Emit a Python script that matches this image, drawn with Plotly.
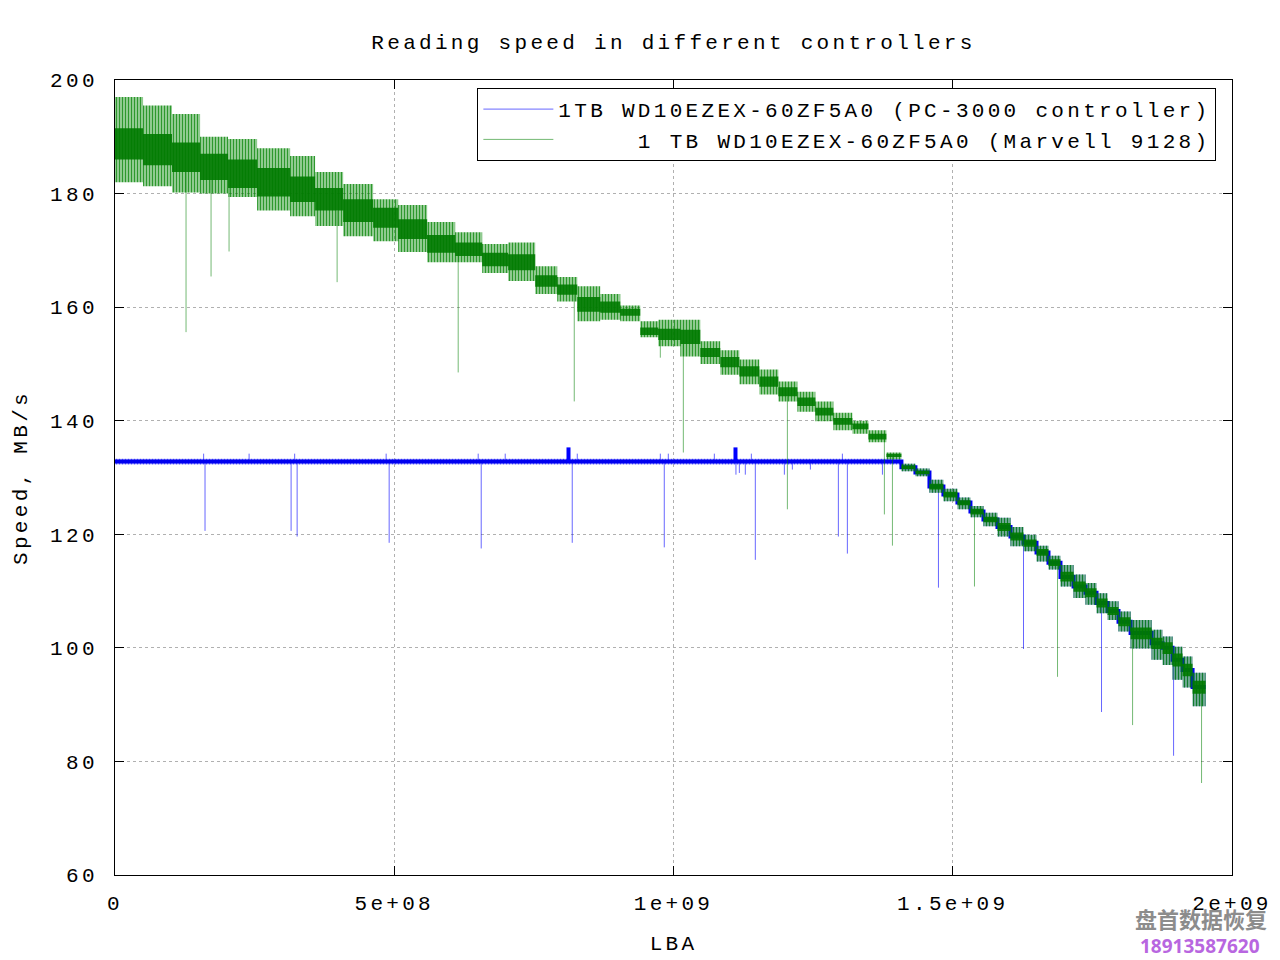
import numpy as np
import plotly.graph_objects as go

# ---------------- data ----------------
# Zone edges (LBA) of the Marvell 9128 read-speed steps
zone_edges_lba = [0, 0.0502e9, 0.1021e9, 0.1523e9, 0.2024e9, 0.2544e9, 0.3135e9, 0.3583e9,
                  0.4085e9, 0.4622e9, 0.5070e9, 0.5589e9, 0.6091e9, 0.6575e9, 0.7040e9,
                  0.7524e9, 0.7918e9, 0.8277e9, 0.8689e9, 0.9047e9, 0.9405e9, 0.9728e9,
                  1.0122e9, 1.0480e9, 1.0838e9, 1.1179e9, 1.1537e9, 1.1877e9, 1.2218e9,
                  1.2540e9, 1.2863e9, 1.3203e9, 1.3490e9, 1.3812e9, 1.4081e9, 1.4332e9,
                  1.4583e9, 1.4833e9, 1.5084e9, 1.5317e9, 1.5550e9, 1.5801e9, 1.6034e9,
                  1.6267e9, 1.6500e9, 1.6714e9, 1.6929e9, 1.7163e9, 1.7377e9, 1.7574e9,
                  1.7771e9, 1.7968e9, 1.8184e9, 1.8560e9, 1.8757e9, 1.8936e9, 1.9115e9,
                  1.9294e9, 1.9527e9]

# Marvell 9128 speed per zone (MB/s): typical level, noise envelope, dense core
marvell_mid = [189, 187.8, 186.4, 184.6, 183.4, 182, 180.8, 179, 176.9, 175.8, 173.7, 171.1,
               170.2, 168.4, 167.9, 164.6, 163.1, 160.5, 160, 159.1, 155.7, 155.2, 154.8, 152,
               150.3, 148.7, 146.9, 145.1, 143.4, 141.6, 139.9, 139, 137.2, 133.9, 131.8, 130.9,
               128.4, 127, 125.6, 124, 122.6, 121.3, 119.6, 118.5, 116.8, 115, 112.5, 110.8,
               109.7, 107.9, 106.5, 104.6, 102.6, 100.8, 100, 97.9, 96.1, 93.1]
marvell_max = [197, 195.5, 194, 190, 189.6, 188, 186.6, 183.8, 181.7, 179, 178, 175,
               173.2, 171.1, 171.4, 167.2, 165.3, 163.7, 162.3, 160.3, 157.5, 157.8, 157.8, 154,
               152.4, 150.8, 149, 146.9, 145.1, 143.4, 141.4, 140, 138.3, 134.4, 132.4, 131.6,
               129.6, 128, 126.5, 125, 123.8, 122.9, 121.3, 119.9, 118, 116.2, 114.6, 112.9,
               111.4, 109.6, 108.2, 106.4, 104.9, 103.2, 102, 100.2, 98.5, 95.6]
marvell_min = [182, 181.3, 180.2, 180, 179.4, 177, 176, 174.3, 172.5, 171.6, 169.7, 167.9,
               167.9, 166, 164.6, 162.3, 161, 157.5, 157.8, 157.5, 154.7, 153.1, 151.3, 150,
               148.1, 146.4, 144.6, 143.4, 141.6, 139.9, 138.3, 137.7, 136.2, 133.2, 131.1, 130.2,
               127.3, 125.8, 124.4, 123, 121.4, 119.6, 117.9, 117, 115.2, 113.8, 110.8, 108.8,
               107.6, 106.1, 104.9, 102.9, 99.9, 97.9, 97, 94.4, 93, 89.7]
marvell_core_hi = [191.5, 190.5, 189, 187, 186, 184.5, 183, 181, 179, 177.5, 175.5, 172.7,
                   171.4, 169.6, 169.3, 165.6, 164, 161.8, 161, 159.7, 156.4, 156.2, 156, 152.8,
                   151.2, 149.6, 147.8, 145.9, 144.1, 142.3, 140.5, 139.5, 137.7, 134.2, 132.1,
                   131.2, 128.9, 127.5, 126, 124.5, 123.1, 122, 120.3, 119.1, 117.4, 115.6, 113.4,
                   111.7, 110.5, 108.7, 107.2, 105.4, 103.6, 101.8, 101, 99, 97.2, 94.2]
marvell_core_lo = [186, 185, 183.8, 182.4, 181, 179.5, 178.5, 177, 175, 174, 172, 169.6,
                   169, 167.2, 166.5, 163.6, 162.2, 159.2, 159, 158.5, 155.1, 154.2, 153.5, 151.2,
                   149.4, 147.8, 146, 144.3, 142.6, 140.9, 139.3, 138.5, 136.7, 133.6, 131.5,
                   130.6, 127.9, 126.5, 125.1, 123.5, 122.1, 120.6, 118.9, 117.8, 116.2, 114.4,
                   111.7, 109.9, 108.9, 107.1, 105.8, 103.8, 101.5, 99.8, 98.9, 96.7, 95, 91.9]

# Marvell 9128 isolated slow reads (LBA, MB/s)
marvell_dip_lba = [0.1272e9, 0.1720e9, 0.2042e9, 0.3977e9, 0.6145e9, 0.8223e9, 0.9764e9,
                   1.0176e9, 1.2039e9, 1.3776e9, 1.3920e9, 1.5389e9, 1.6876e9, 1.8220e9,
                   1.9455e9]
marvell_dip_val = [155.6, 165.4, 169.8, 164.4, 148.5, 143.4, 151.1, 134.4, 124.4, 123.5, 118,
                   110.8, 94.9, 86.4, 76.2]

# PC-3000: flat level until the drive's own speed drops below it, then identical zones
pc3000_flat_end_lba = 1.4081e9
pc3000_flat_mid = 132.8
pc3000_flat_max = 133.3
pc3000_flat_min = 132.3

# PC-3000 isolated deviations (LBA, MB/s)
pc3000_dip_lba = [0.1612e9, 0.3153e9, 0.3261e9, 0.4909e9, 0.6557e9, 0.8187e9, 0.9835e9,
                  1.1465e9, 1.2952e9, 1.3113e9, 1.4744e9, 1.6267e9, 1.7664e9, 1.8954e9,
                  0.1587e9, 0.2401e9, 0.3217e9, 0.4855e9, 0.6503e9, 0.6987e9, 0.8277e9,
                  0.9764e9, 0.9907e9, 1.0731e9, 1.1394e9, 1.3024e9,
                  1.1118e9, 1.1179e9, 1.1286e9, 1.1985e9, 1.2128e9, 1.2451e9, 1.3741e9]
pc3000_dip_val = [120.6, 120.6, 119.6, 118.5, 117.5, 118.5, 117.7, 115.5, 119.6, 116.6, 110.6,
                  99.8, 88.7, 81,
                  134.2, 134.2, 134.2, 134.2, 134.2, 134.2, 134.2, 134.2, 134.2, 134.2, 134.2,
                  134.2,
                  130.5, 130.8, 130.5, 130.5, 131.4, 131.4, 130.5]
pc3000_bump_lba = [0.8120e9, 1.1110e9]
pc3000_bump_val = [135.3, 135.3]

x_tick_vals = [0, 5e8, 1e9, 1.5e9, 2e9]
x_tick_text = ["0", "5e+08", "1e+09", "1.5e+09", "2e+09"]
y_tick_vals = [60, 80, 100, 120, 140, 160, 180, 200]
y_tick_text = ["60", "80", "100", "120", "140", "160", "180", "200"]

TITLE = "Reading speed in different controllers"
NAME_PC = "1TB WD10EZEX-60ZF5A0 (PC-3000 controller)"
NAME_MV = "1 TB WD10EZEX-60ZF5A0 (Marvell 9128)"

# ---------------- helpers ----------------
FONT = "Liberation Mono, Courier New, monospace"
FS = 21
LS = 3.3


def sp(t, ls=LS):
    return '<span style="letter-spacing:%spx">%s</span>' % (ls, t)


edges = np.array(zone_edges_lba)
first_pc_zone = int(np.searchsorted(edges, pc3000_flat_end_lba))


def step_y(vals):
    return list(vals) + [vals[-1]]


def zone_of(lba):
    return min(int(np.searchsorted(edges, lba, side="right")) - 1, len(marvell_mid) - 1)


def pc_base(lba):
    if lba < pc3000_flat_end_lba:
        return pc3000_flat_mid
    return marvell_mid[zone_of(lba)]


fig = go.Figure()

# ---- PC-3000 (blue) ----
pc_x = [0] + list(edges[first_pc_zone:])
pc_hi = step_y([pc3000_flat_max] + marvell_max[first_pc_zone:])
pc_lo = step_y([pc3000_flat_min] + marvell_min[first_pc_zone:])
pc_mid = step_y([pc3000_flat_mid] + marvell_mid[first_pc_zone:])

sx, sy = [], []
for l, v in zip(pc3000_dip_lba, pc3000_dip_val):
    sx += [l, l, None]
    sy += [pc_base(l), v, None]
fig.add_trace(go.Scatter(x=sx, y=sy, mode="lines", name=sp(NAME_PC),
                         line=dict(color="rgba(0,0,255,0.6)", width=1),
                         legendgroup="pc", hoverinfo="skip"))
fig.add_trace(go.Scatter(x=pc_x, y=pc_hi, mode="lines", line=dict(width=0, shape="hv"),
                         showlegend=False, legendgroup="pc", hoverinfo="skip"))
fig.add_trace(go.Scatter(x=pc_x, y=pc_lo, mode="lines", line=dict(width=0, shape="hv"),
                         fill="tonexty",
                         fillpattern=dict(shape="|", size=3, solidity=0.45,
                                          fgcolor="rgb(40,40,255)", fgopacity=0.7,
                                          bgcolor="rgba(90,90,255,0.25)"),
                         showlegend=False, legendgroup="pc", hoverinfo="skip"))
fig.add_trace(go.Scatter(x=pc_x, y=pc_mid, mode="lines",
                         line=dict(color="rgb(0,0,240)", width=4, shape="hv"),
                         showlegend=False, legendgroup="pc", hoverinfo="skip"))
bx, by = [], []
for l, v in zip(pc3000_bump_lba, pc3000_bump_val):
    bx += [l, l, None]
    by += [pc3000_flat_mid, v, None]
fig.add_trace(go.Scatter(x=bx, y=by, mode="lines", line=dict(color="rgb(0,0,255)", width=4),
                         showlegend=False, legendgroup="pc", hoverinfo="skip"))

# ---- Marvell 9128 (green) ----
gx, gy = [], []
for l, v in zip(marvell_dip_lba, marvell_dip_val):
    gx += [l, l, None]
    gy += [marvell_core_lo[zone_of(l)], v, None]
# legend text is right-aligned in the original, hence the leading no-break spaces
fig.add_trace(go.Scatter(x=gx, y=gy, mode="lines", name=sp("\u00a0" * 5 + NAME_MV),
                         line=dict(color="rgba(0,128,0,0.55)", width=1),
                         legendgroup="mv", hoverinfo="skip"))
fig.add_trace(go.Scatter(x=list(edges), y=step_y(marvell_max), mode="lines",
                         line=dict(width=0, shape="hv"), showlegend=False,
                         legendgroup="mv", hoverinfo="skip"))
fig.add_trace(go.Scatter(x=list(edges), y=step_y(marvell_min), mode="lines",
                         line=dict(width=0, shape="hv"), fill="tonexty",
                         fillpattern=dict(shape="|", size=3, solidity=0.5,
                                          fgcolor="rgb(0,128,0)", fgopacity=0.75,
                                          bgcolor="rgba(0,140,0,0.3)"),
                         showlegend=False, legendgroup="mv", hoverinfo="skip"))
fig.add_trace(go.Scatter(x=list(edges), y=step_y(marvell_core_hi), mode="lines",
                         line=dict(width=0, shape="hv"), showlegend=False,
                         legendgroup="mv", hoverinfo="skip"))
fig.add_trace(go.Scatter(x=list(edges), y=step_y(marvell_core_lo), mode="lines",
                         line=dict(width=0, shape="hv"), fill="tonexty",
                         fillcolor="rgba(0,122,0,0.9)", showlegend=False,
                         legendgroup="mv", hoverinfo="skip"))

axis_common = dict(
    showline=True, linecolor="#000000", linewidth=1, mirror="ticks",
    ticks="inside", ticklen=9, tickwidth=1, tickcolor="#000000",
    showgrid=True, gridcolor="#b0b0b0", gridwidth=1, griddash="dot",
    zeroline=False, automargin=False,
    tickfont=dict(family=FONT, size=FS, color="#000000"),
)

fig.update_layout(
    width=1280, height=960,
    paper_bgcolor="white", plot_bgcolor="white",
    margin=dict(l=115, r=48, t=80, b=85),
    font=dict(family=FONT, size=FS, color="#000000"),
    title=dict(text=sp(TITLE), x=0.5, xref="paper", xanchor="center",
               y=1 - 42 / 960, yref="container", yanchor="middle",
               font=dict(family=FONT, size=FS, color="#000000")),
    xaxis=dict(range=[0, 2e9], tickmode="array", tickvals=x_tick_vals,
               ticktext=[sp(t) for t in x_tick_text], ticklabelstandoff=9,
               title=dict(text=sp("LBA"), standoff=20,
                          font=dict(family=FONT, size=FS, color="#000000")),
               **axis_common),
    yaxis=dict(range=[60, 200], tickmode="array", tickvals=y_tick_vals,
               ticktext=[sp(t) for t in y_tick_text], ticklabelstandoff=12,
               title=dict(text=sp("Speed, MB/s"), standoff=16,
                          font=dict(family=FONT, size=FS, color="#000000")),
               **axis_common),
    legend=dict(x=0.986, xanchor="right", y=0.99, yanchor="top",
                bgcolor="white", bordercolor="#000000", borderwidth=1,
                font=dict(family=FONT, size=FS, color="#000000"),
                tracegroupgap=0, itemwidth=70),
    showlegend=True,
    annotations=[
        dict(text="盘首数据恢复", xref="paper", yref="paper", x=0.972, y=-0.054,
             xanchor="center", yanchor="middle", showarrow=False,
             font=dict(family="Noto Sans CJK SC", size=22, color="#8c8c8c", weight="bold")),
        dict(text="18913587620", xref="paper", yref="paper", x=0.971, y=-0.0895,
             xanchor="center", yanchor="middle", showarrow=False,
             font=dict(family="Noto Sans", size=19, color="#b866e0", weight="bold")),
    ],
)

fig.write_html("out.html", config={"displayModeBar": False},
               post_script="document.body.style.margin='0';document.body.style.overflow='hidden';")
